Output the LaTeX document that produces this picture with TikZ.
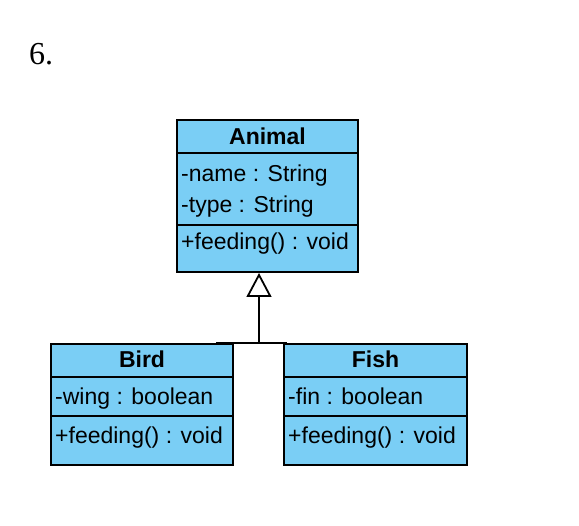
\documentclass[tikz,border=0pt]{standalone}
\usepackage{fontspec}
\setmainfont{Liberation Sans}
\newfontfamily\numfont{Liberation Serif}
\usetikzlibrary{arrows.meta}
\definecolor{classblue}{RGB}{122,206,245}
\tikzset{
  classbox/.style={draw=black, fill=classblue, line width=1.8pt, rectangle, inner sep=0pt},
  divider/.style={draw=black, line width=1.4pt},
  member/.style={anchor=west, inner sep=0pt, font=\fontsize{23}{27}\selectfont, text height=16.5pt, text depth=4.5pt},
  classname/.style={inner sep=0pt, font=\fontsize{23}{27}\selectfont\bfseries, text height=16.5pt, text depth=4.5pt},
  conn/.style={draw=black, line width=1.8pt},
  gen/.style={conn, -{Triangle[open, length=24pt, width=25pt, fill=white]}}
}
\begin{document}
\begin{tikzpicture}[x=1pt,y=-1pt]
\useasboundingbox (0,0) rectangle (579,526);
% label
\node[anchor=base west, inner sep=0pt, font=\numfont\fontsize{32}{36}\selectfont] (num) at (29,65) {6.};
% Animal
\node[classbox, minimum width=181pt, minimum height=152pt] (animal) at (267.5,196) {};
\draw[divider] (177,153) -- (358,153);
\draw[divider] (177,225) -- (358,225);
\node[classname] (animalname) at (267.5,139) {Animal};
\node[member] (animalattr1) at (181,176) {-name : String};
\node[member] (animalattr2) at (181,207) {-type : String};
\node[member] (animalop) at (181,244) {+feeding() : void};
% Bird
\node[classbox, minimum width=182pt, minimum height=121pt] (bird) at (142,404.5) {};
\draw[divider] (51,377) -- (233,377);
\draw[divider] (51,416) -- (233,416);
\node[classname] (birdname) at (142,362) {Bird};
\node[member] (birdattr) at (55,398.5) {-wing : boolean};
\node[member] (birdop) at (55,437.5) {+feeding() : void};
% Fish
\node[classbox, minimum width=183pt, minimum height=121pt] (fish) at (375.5,404.5) {};
\draw[divider] (284,377) -- (467,377);
\draw[divider] (284,416) -- (467,416);
\node[classname] (fishname) at (375.5,362) {Fish};
\node[member] (fishattr) at (288,398.5) {-fin : boolean};
\node[member] (fishop) at (288,437.5) {+feeding() : void};
% generalization
\coordinate (junction) at (259,343);
\coordinate (tip) at (259,273);
\coordinate (jl) at (216,343);
\coordinate (jr) at (287,343);
\draw[conn] (jl) -- (jr);
\draw[gen] (junction) -- (tip);
\end{tikzpicture}
\end{document}
